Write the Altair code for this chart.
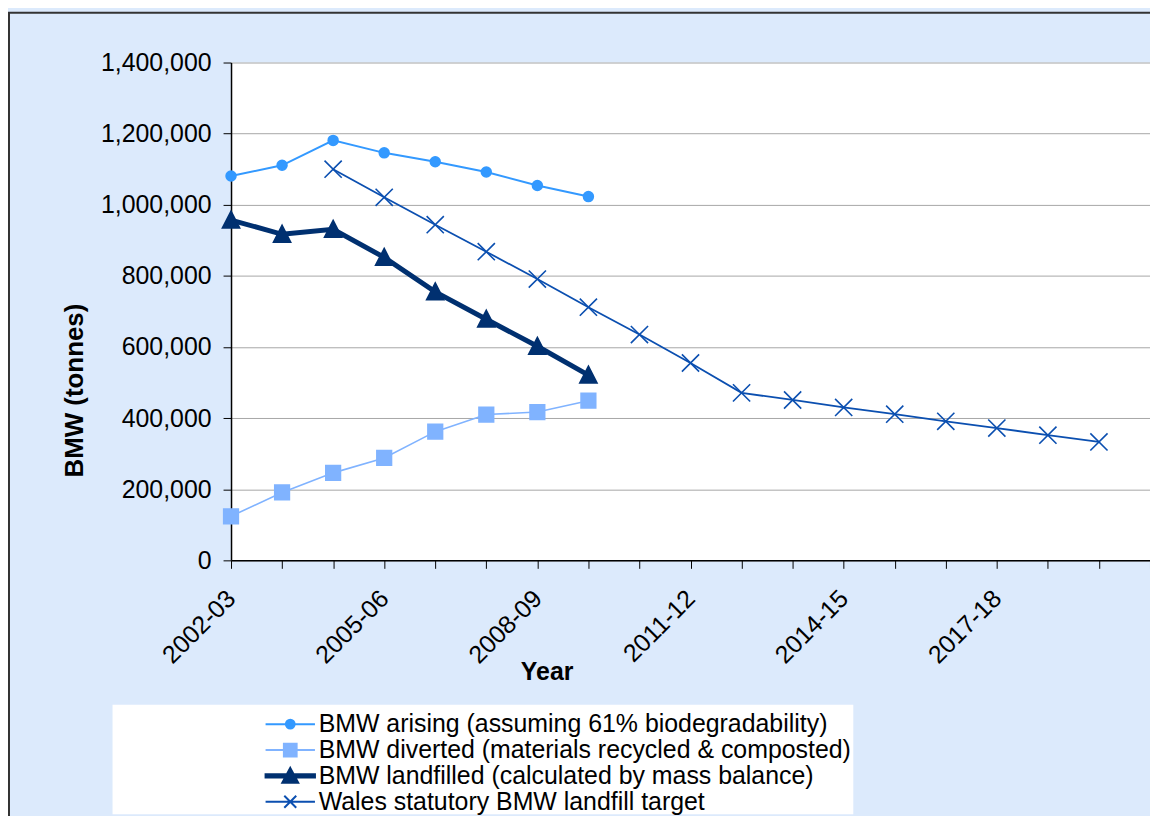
import json
import altair as alt
import pandas as pd

# ---------------- data ----------------
years = ["2002-03", "2003-04", "2004-05", "2005-06", "2006-07", "2007-08",
         "2008-09", "2009-10", "2010-11", "2011-12", "2012-13", "2013-14",
         "2014-15", "2015-16", "2016-17", "2017-18", "2018-19", "2019-20",
         "2020-21"]
shown_labels = ["2002-03", "2005-06", "2008-09", "2011-12", "2014-15", "2017-18"]
y_ticks = [0, 200000, 400000, 600000, 800000, 1000000, 1200000, 1400000]

series_names = [
    "BMW arising (assuming 61% biodegradability)",
    "BMW diverted (materials recycled & composted)",
    "BMW landfilled (calculated by mass balance)",
    "Wales statutory BMW landfill target",
]

arising = [1081000, 1111000, 1181000, 1146000, 1121000, 1092000, 1054000, 1023000] + [None] * 11
diverted = [124000, 191000, 246000, 288000, 362000, 410000, 417000, 449000] + [None] * 11
landfilled = [957000, 917000, 931000, 852000, 755000, 678000, 602000, 521000] + [None] * 11
target = [None, None, 1100000, 1021000, 944000, 868000, 791000, 712000, 635000,
          555000, 471000, 451000, 430000, 411000, 391000, 372000, 352000, 333000, None]

rows = []
for name, vals in zip(series_names, [arising, diverted, landfilled, target]):
    for yr, v in zip(years, vals):
        if v is not None:
            rows.append({"series": name, "year": yr, "value": v})
df = pd.DataFrame(rows)

# ---------------- styles ----------------
colors = ["#3399FF", "#80B3FF", "#003070", "#0B4FB0"]
line_widths = [2, 1.6, 5, 1.8]

marker_paths = [
    "M0.62,0A0.62,0.62,0,1,1,-0.62,0A0.62,0.62,0,1,1,0.62,0Z",
    "M-0.92,-0.92H0.92V0.92H-0.92Z",
    "M0,-1.12L1.08,0.98H-1.08Z",
    "M-1.08,-1.08L1.08,1.08M-1.08,1.08L1.08,-1.08",
]
legend_paths = [
    "M-3.1,0H3.1M0.55,0A0.55,0.55,0,1,1,-0.55,0A0.55,0.55,0,1,1,0.55,0Z",
    "M-3.1,0H3.1M-0.8,-0.8H0.8V0.8H-0.8Z",
    "M-3.1,-0.2H3.1V0.2H-3.1ZM0,-1.0L1.0,0.85H-1.0Z",
    "M-3.1,0H3.1M-0.75,-0.75L0.75,0.75M-0.75,0.75L0.75,-0.75",
]

W, H = 923, 500
FONT = "Liberation Sans"

label_expr = "indexof(" + json.dumps(shown_labels) + ", datum.value) >= 0 ? datum.value : ''"

x_enc = alt.X(
    "year:O",
    scale=alt.Scale(type="point", domain=years, padding=0),
    axis=alt.Axis(
        title="Year", labelExpr=label_expr, labelAngle=-45, labelAlign="right",
        labelBaseline="middle", labelFontSize=25, labelPadding=26, labelOverlap=False,
        tickSize=8, tickColor="black", domainColor="black", domainWidth=1.5,
        grid=False, titleX=317, titleY=112, titleFontSize=25, titleFontWeight="bold",
        titleAlign="center", titleBaseline="middle", labelColor="black", titleColor="black",
    ),
)
y_enc = alt.Y(
    "value:Q",
    scale=alt.Scale(domain=[0, 1400000], nice=False),
    axis=alt.Axis(
        title="BMW (tonnes)", values=y_ticks, format=",d", labelFontSize=25,
        labelPadding=12, tickSize=8, tickColor="black", domainColor="black",
        domainWidth=1.5, grid=True, gridColor="#A6A6A6", gridWidth=1,
        titleX=-157, titleY=329, titleAngle=270, titleFontSize=26,
        titleFontWeight="bold", titleAlign="center", titleBaseline="middle",
        labelColor="black", titleColor="black",
    ),
)

base = alt.Chart(df)

lines = base.mark_line().encode(
    x=x_enc, y=y_enc,
    color=alt.Color("series:N", scale=alt.Scale(domain=series_names, range=colors), legend=None),
    strokeWidth=alt.StrokeWidth("series:N", scale=alt.Scale(type="ordinal", domain=series_names, range=line_widths), legend=None),
)

points = base.mark_point(filled=True, opacity=1, size=256, strokeWidth=1.6).encode(
    x=x_enc, y=y_enc,
    color=alt.Color("series:N", scale=alt.Scale(domain=series_names, range=colors), legend=None),
    stroke=alt.Stroke("series:N", scale=alt.Scale(domain=series_names, range=colors), legend=None),
    shape=alt.Shape("series:N", scale=alt.Scale(domain=series_names, range=marker_paths), legend=None),
)

leg = alt.Legend(
    title=None, orient="none", legendX=47, legendY=652, padding=0, rowPadding=0,
    labelFontSize=25, labelFont=FONT, labelColor="black", labelOffset=16,
    symbolSize=256, symbolStrokeWidth=2, labelLimit=0,
)

legend_layer = alt.Chart(df).transform_filter("false").mark_point(
    filled=True, opacity=1, size=256, strokeWidth=2
).encode(
    x=x_enc, y=y_enc,
    color=alt.Color("series:N", scale=alt.Scale(domain=series_names, range=colors), legend=leg),
    stroke=alt.Stroke("series:N", scale=alt.Scale(domain=series_names, range=colors), legend=leg),
    shape=alt.Shape("series:N", scale=alt.Scale(domain=series_names, range=legend_paths), legend=leg),
)

deco = alt.Chart(pd.DataFrame({"k": [0]}))
legend_box = deco.mark_rect(color="white").encode(
    x=alt.value(-119), x2=alt.value(625), y=alt.value(645), y2=alt.value(755)
)
top_border = deco.mark_rule(color="#333333", strokeWidth=2).encode(
    x=alt.value(-224), x2=alt.value(W), y=alt.value(-50)
)
left_border = deco.mark_rule(color="#333333", strokeWidth=2).encode(
    x=alt.value(-223), y=alt.value(-50), y2=alt.value(760)
)

chart = alt.layer(
    legend_box, top_border, left_border, lines, points, legend_layer
).resolve_scale(
    color="independent", stroke="independent", shape="independent", strokeWidth="independent"
).properties(
    width=W, height=H,
    autosize=alt.AutoSizeParams(type="none"),
    padding={"left": 224, "top": 53, "right": 0, "bottom": 255},
    background="#DCEAFC",
).configure_view(
    fill="white", stroke=None
).configure_axis(
    labelFont=FONT, titleFont=FONT
).configure_legend(
    labelFont=FONT
)

chart.save("out.html", embed_options={"renderer": "svg", "actions": False})
